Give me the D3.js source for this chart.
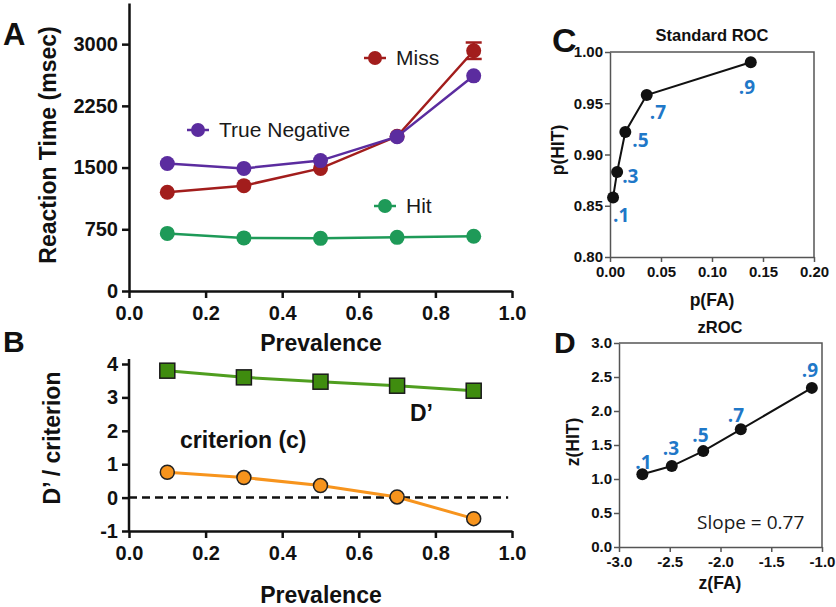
<!DOCTYPE html>
<html><head><meta charset="utf-8">
<script src="https://cdn.jsdelivr.net/npm/d3@7"></script>
<style>
html,body{margin:0;padding:0;background:#fff;}
svg{font-family:"Liberation Sans",Arial,sans-serif;}
</style></head>
<body><svg id="chart" width="836" height="607"></svg>
<script>
// ---------- DATA ----------
const prevalence = [0.1, 0.3, 0.5, 0.7, 0.9];
const rtTrueNegative = [1550, 1490, 1585, 1875, 2615];
const rtMiss = [1200, 1280, 1490, 1880, 2920];
const rtMissErr = [0, 0, 0, 0, 100];
const rtHit = [700, 645, 640, 652, 665];
const dPrime = [3.80, 3.60, 3.47, 3.35, 3.20];
const criterion = [0.76, 0.60, 0.36, 0.02, -0.63];
const pFA = [0.003, 0.007, 0.015, 0.036, 0.138];
const pHit = [0.858, 0.883, 0.922, 0.958, 0.990];
const zFA = [-2.77, -2.48, -2.17, -1.80, -1.10];
const zHit = [1.07, 1.19, 1.41, 1.73, 2.34];
const prevalenceLabels = [".1", ".3", ".5", ".7", ".9"];
const prevTicks = [0.0, 0.2, 0.4, 0.6, 0.8, 1.0];
const rtTicks = [0, 750, 1500, 2250, 3000];
const dTicks = [-1, 0, 1, 2, 3, 4];
const pFATicks = [0.00, 0.05, 0.10, 0.15, 0.20];
const pHitTicks = [0.80, 0.85, 0.90, 0.95, 1.00];
const zFATicks = [-3.0, -2.5, -2.0, -1.5, -1.0];
const zHitTicks = [0.0, 0.5, 1.0, 1.5, 2.0, 2.5, 3.0];

// ---------- HELPERS ----------
const svg = d3.select("#chart");
svg.append("rect").attr("width", 836).attr("height", 607).attr("fill", "#fff");
const baseFont = "'Liberation Sans', Arial, sans-serif";
const altFont = "'Open Sans', 'Liberation Sans', sans-serif";

function styleAxis(g, fs, color, sw) {
  g.attr("font-family", null).attr("font-size", null);
  g.select(".domain").attr("stroke", color).attr("stroke-width", sw);
  g.selectAll(".tick line").attr("stroke", color).attr("stroke-width", sw);
  g.selectAll(".tick text").attr("fill", "#111").attr("font-size", fs).attr("font-weight", "bold")
    .style("font-family", baseFont);
}
function txt(x, y, s, o) {
  o = o || {};
  const t = svg.append("text").attr("x", x).attr("y", y).attr("dy", "0.35em")
    .attr("font-size", o.fs || 20).attr("font-weight", o.fw || "bold")
    .attr("fill", o.fill || "#111").attr("text-anchor", o.anchor || "middle")
    .style("font-family", o.ff || baseFont).text(s);
  if (o.rot) t.attr("transform", `rotate(-90,${x},${y})`);
  return t;
}

// ---------- PANEL A ----------
const xA = d3.scaleLinear().domain([0, 1]).range([129, 512]);
const yA = d3.scaleLinear().domain([0, 3500]).range([291, 3]);
const axA = svg.append("g").attr("transform", `translate(0,${yA(0)})`)
  .call(d3.axisBottom(xA).tickValues(prevTicks).tickFormat(d3.format(".1f")).tickSize(7).tickSizeOuter(0).tickPadding(8));
styleAxis(axA, 20, "#111", 2.5);
const ayA = svg.append("g").attr("transform", `translate(${xA(0)},0)`)
  .call(d3.axisLeft(yA).tickValues(rtTicks).tickFormat(d3.format("d")).tickSize(7).tickSizeOuter(0).tickPadding(4));
styleAxis(ayA, 20, "#111", 2.5);

const colMiss = "#a21d1c", colTN = "#5b2c9f", colHit = "#1e9a58";
function seriesA(vals, col) {
  const pts = prevalence.map((p, i) => [xA(p), yA(vals[i])]);
  svg.append("path").attr("d", d3.line()(pts)).attr("fill", "none").attr("stroke", col).attr("stroke-width", 2.5);
  svg.selectAll(null).data(pts).enter().append("circle")
    .attr("cx", d => d[0]).attr("cy", d => d[1]).attr("r", 7.5).attr("fill", col);
}
// error bars for Miss
prevalence.forEach((p, i) => {
  if (!rtMissErr[i]) return;
  const x = xA(p), y1 = yA(rtMiss[i] + rtMissErr[i]), y2 = yA(rtMiss[i] - rtMissErr[i]);
  svg.append("line").attr("x1", x).attr("x2", x).attr("y1", y1).attr("y2", y2).attr("stroke", colMiss).attr("stroke-width", 2.5);
  [y1, y2].forEach(y => svg.append("line").attr("x1", x - 8).attr("x2", x + 8).attr("y1", y).attr("y2", y).attr("stroke", colMiss).attr("stroke-width", 2.5));
});
seriesA(rtMiss, colMiss);
seriesA(rtTrueNegative, colTN);
seriesA(rtHit, colHit);

function legendA(cx, cy, col, label) {
  svg.append("line").attr("x1", cx - 11).attr("x2", cx + 11).attr("y1", cy).attr("y2", cy).attr("stroke", col).attr("stroke-width", 2.5);
  svg.append("circle").attr("cx", cx).attr("cy", cy).attr("r", 7).attr("fill", col);
  txt(cx + 21, cy, label, { fs: 21, fw: "normal", anchor: "start", fill: "#1a1a1a" });
}
legendA(375, 58, colMiss, "Miss");
legendA(198, 130, colTN, "True Negative");
legendA(385, 206, colHit, "Hit");

txt(48, 145, "Reaction Time (msec)", { fs: 23, rot: true });
txt(321, 343, "Prevalence", { fs: 23 });
svg.append("text").attr("x", 3).attr("y", 45).attr("font-size", 31).attr("font-weight", "bold").attr("fill", "#111").text("A");

// ---------- PANEL B ----------
const xB = d3.scaleLinear().domain([0, 1]).range([129, 512]);
const yB = d3.scaleLinear().domain([-1, 4]).range([531, 364]);
const axB = svg.append("g").attr("transform", `translate(0,${yB(-1)})`)
  .call(d3.axisBottom(xB).tickValues(prevTicks).tickFormat(d3.format(".1f")).tickSize(7).tickSizeOuter(0).tickPadding(8));
styleAxis(axB, 20, "#111", 2.5);
const ayB = svg.append("g").attr("transform", `translate(${xB(0)},0)`)
  .call(d3.axisLeft(yB).tickValues(dTicks).tickFormat(d3.format("d")).tickSize(7).tickSizeOuter(0).tickPadding(4));
styleAxis(ayB, 20, "#111", 2.5);
ayB.select(".domain").attr("d", `M0,${yB(-1)}V${yB(4.15)}`);
ayB.selectAll(".tick text").text(d => String(d).replace("\u2212", "-"));

svg.append("line").attr("x1", xB(0)).attr("x2", xB(0.99)).attr("y1", yB(0)).attr("y2", yB(0))
  .attr("stroke", "#111").attr("stroke-width", 2.5).attr("stroke-dasharray", "8,5");

const ptsD = prevalence.map((p, i) => [xB(p), yB(dPrime[i])]);
svg.append("path").attr("d", d3.line()(ptsD)).attr("fill", "none").attr("stroke", "#4f9e1f").attr("stroke-width", 3);
svg.selectAll(null).data(ptsD).enter().append("rect")
  .attr("x", d => d[0] - 7.5).attr("y", d => d[1] - 7.5).attr("width", 15).attr("height", 15)
  .attr("fill", "#3f8c0f").attr("stroke", "#1a1a1a").attr("stroke-width", 1.5);
const ptsC = prevalence.map((p, i) => [xB(p), yB(criterion[i])]);
svg.append("path").attr("d", d3.line()(ptsC)).attr("fill", "none").attr("stroke", "#f7941d").attr("stroke-width", 3);
svg.selectAll(null).data(ptsC).enter().append("circle")
  .attr("cx", d => d[0]).attr("cy", d => d[1]).attr("r", 7)
  .attr("fill", "#f7941d").attr("stroke", "#222").attr("stroke-width", 1.5);

txt(410, 413, "D\u2019", { fs: 23, anchor: "start" });
txt(180, 440, "criterion (c)", { fs: 23, anchor: "start" });
txt(52, 438, "D\u2019 / criterion", { fs: 23, rot: true });
txt(321, 595, "Prevalence", { fs: 23 });
svg.append("text").attr("x", 3).attr("y", 352).attr("font-size", 30).attr("font-weight", "bold").attr("fill", "#111").text("B");

// ---------- PANEL C ----------
const xC = d3.scaleLinear().domain([0, 0.2]).range([610, 814]);
const yC = d3.scaleLinear().domain([0.8, 1.0]).range([257, 52]);
const frameCol = "#555";
svg.append("path").attr("d", `M${xC(0)},${yC(1)}H${xC(0.2)}V${yC(0.8)}`).attr("fill", "none").attr("stroke", frameCol).attr("stroke-width", 1.5);
const axC = svg.append("g").attr("transform", `translate(0,${yC(0.8)})`)
  .call(d3.axisBottom(xC).tickValues(pFATicks).tickFormat(d3.format(".2f")).tickSize(5).tickSizeOuter(0).tickPadding(4));
styleAxis(axC, 15, frameCol, 1.5);
const ayC = svg.append("g").attr("transform", `translate(${xC(0)},0)`)
  .call(d3.axisLeft(yC).tickValues(pHitTicks).tickFormat(d3.format(".2f")).tickSize(5).tickSizeOuter(0).tickPadding(2));
styleAxis(ayC, 15, frameCol, 1.5);

const ptsROC = pFA.map((v, i) => [xC(v), yC(pHit[i])]);
svg.append("path").attr("d", d3.line()(ptsROC)).attr("fill", "none").attr("stroke", "#111").attr("stroke-width", 2);
svg.selectAll(null).data(ptsROC).enter().append("circle")
  .attr("cx", d => d[0]).attr("cy", d => d[1]).attr("r", 6).attr("fill", "#111");
const offC = [[0, 18], [5, 4], [7, 8], [3, 17], [-12, 25]];
ptsROC.forEach((d, i) => txt(d[0] + offC[i][0], d[1] + offC[i][1], prevalenceLabels[i], { fs: 19, anchor: "start", fill: "#1f78c8", ff: altFont }));

txt(712, 35, "Standard ROC", { fs: 16.5 });
txt(558, 150, "p(HIT)", { fs: 17.5, rot: true });
txt(712, 300, "p(FA)", { fs: 17.5 });
svg.append("text").attr("x", 552).attr("y", 52).attr("font-size", 34).attr("font-weight", "bold").attr("fill", "#111").text("C");

// ---------- PANEL D ----------
const xD = d3.scaleLinear().domain([-3, -1]).range([619, 822]);
const yD = d3.scaleLinear().domain([0, 3]).range([547, 343]);
svg.append("path").attr("d", `M${xD(-3)},${yD(3)}H${xD(-1)}V${yD(0)}`).attr("fill", "none").attr("stroke", frameCol).attr("stroke-width", 1.5);
const axD = svg.append("g").attr("transform", `translate(0,${yD(0)})`)
  .call(d3.axisBottom(xD).tickValues(zFATicks).tickFormat(d3.format(".1f")).tickSize(5).tickSizeOuter(0).tickPadding(4));
styleAxis(axD, 15, frameCol, 1.5);
const ayD = svg.append("g").attr("transform", `translate(${xD(-3)},0)`)
  .call(d3.axisLeft(yD).tickValues(zHitTicks).tickFormat(d3.format(".1f")).tickSize(5).tickSizeOuter(0).tickPadding(2));
styleAxis(ayD, 15, frameCol, 1.5);
axD.selectAll(".tick text").text(d => d3.format(".1f")(d).replace("\u2212", "-"));

const ptsZ = zFA.map((v, i) => [xD(v), yD(zHit[i])]);
svg.append("path").attr("d", d3.line()(ptsZ)).attr("fill", "none").attr("stroke", "#111").attr("stroke-width", 2);
svg.selectAll(null).data(ptsZ).enter().append("circle")
  .attr("cx", d => d[0]).attr("cy", d => d[1]).attr("r", 6).attr("fill", "#111");
const offD = [[-7, -12], [-9, -18], [-11, -16], [-13, -14], [-10, -18]];
ptsZ.forEach((d, i) => txt(d[0] + offD[i][0], d[1] + offD[i][1], prevalenceLabels[i], { fs: 19, anchor: "start", fill: "#1f78c8", ff: altFont }));

txt(697, 522, "Slope = 0.77", { fs: 19, fw: "normal", anchor: "start", fill: "#1a1a1a", ff: altFont });
txt(720, 327, "zROC", { fs: 16.5 });
txt(573, 442, "z(HIT)", { fs: 17.5, rot: true });
txt(720, 583, "z(FA)", { fs: 17.5 });
svg.append("text").attr("x", 554).attr("y", 353).attr("font-size", 30).attr("font-weight", "bold").attr("fill", "#111").text("D");
</script></body></html>
